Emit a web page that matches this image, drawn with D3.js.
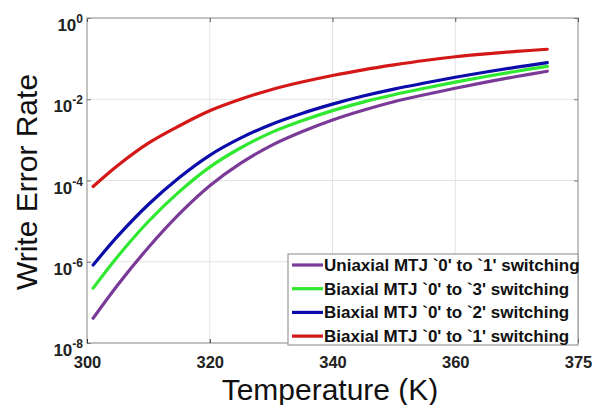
<!DOCTYPE html>
<html><head><meta charset="utf-8">
<script src="https://cdn.jsdelivr.net/npm/d3@7"></script>
<style>body{margin:0;background:#fff}svg{display:block}</style>
</head><body>
<svg id="c" width="596" height="405"></svg>
<script>
const temps = [301,305,310,315,320,325,330,335,340,345,350,355,360,365,370,375];
const uniaxial01 = [4.07e-8,2.69e-7,2.24e-6,1.48e-5,7.41e-5,2.63e-4,7.24e-4,1.58e-3,3.09e-3,5.37e-3,8.71e-3,1.29e-2,1.86e-2,2.63e-2,3.63e-2,4.90e-2];
const biaxial03 = [2.24e-7,1.35e-6,9.8e-6,5.25e-5,2.14e-4,6.31e-4,1.51e-3,2.95e-3,5.25e-3,8.51e-3,1.29e-2,1.86e-2,2.63e-2,3.63e-2,4.90e-2,6.46e-2];
const biaxial02 = [8.3e-7,4.27e-6,2.57e-5,1.17e-4,4.17e-4,1.10e-3,2.40e-3,4.47e-3,7.59e-3,1.20e-2,1.78e-2,2.51e-2,3.47e-2,4.68e-2,6.17e-2,7.94e-2];
const biaxial01 = [7.1e-5,2.34e-4,8.3e-4,2.2e-3,5.2e-3,1.0e-2,1.72e-2,2.65e-2,3.85e-2,5.3e-2,7.0e-2,9.0e-2,0.111,0.131,0.151,0.170];
const seriesNames = ["Uniaxial MTJ `0' to `1' switching","Biaxial MTJ `0' to `3' switching","Biaxial MTJ `0' to `2' switching","Biaxial MTJ `0' to `1' switching"];
const seriesColors = ["#7a3a98","#2fe82f","#0c0caa","#d41818"];
const xTickValues = [300,320,340,360,380];
const xTickLabels = ["300","320","340","360","375"];
const yTickExps = [0,-2,-4,-6,-8];

const series = [uniaxial01, biaxial03, biaxial02, biaxial01];
const svg = d3.select("#c");
const L=87, R=578, T=18, B=343;
const x = d3.scaleLinear().domain([300,380]).range([L,R]);
const y = d3.scaleLog().domain([1e-8,1]).range([B,T]);

// grid
const g = svg.append("g");
g.selectAll(".gx").data(xTickValues.slice(1,-1)).enter().append("line")
 .attr("x1",d=>x(d)).attr("x2",d=>x(d)).attr("y1",T).attr("y2",B)
 .attr("stroke","#e3e3e3").attr("stroke-width",1);
g.selectAll(".gy").data(yTickExps.slice(1,-1)).enter().append("line")
 .attr("x1",L).attr("x2",R).attr("y1",d=>y(Math.pow(10,d))).attr("y2",d=>y(Math.pow(10,d)))
 .attr("stroke","#e3e3e3").attr("stroke-width",1);

// lines
const line = d3.line().x((d,i)=>x(temps[i])).y(d=>y(d)).curve(d3.curveCatmullRom.alpha(0.5));
series.forEach((s,k)=>{
  svg.append("path").datum(s).attr("d",line).attr("fill","none")
    .attr("stroke",seriesColors[k]).attr("stroke-width",3.2).attr("stroke-linecap","round");
});

// frame
svg.append("rect").attr("x",L).attr("y",T).attr("width",R-L).attr("height",B-T)
 .attr("fill","none").attr("stroke","#9a9a9a").attr("stroke-width",1.2);

// ticks (inward)
const xb = svg.append("g").attr("transform",`translate(0,${B})`)
 .call(d3.axisBottom(x).tickValues(xTickValues).tickSizeInner(-4).tickSizeOuter(0).tickFormat((d,i)=>xTickLabels[i]));
xb.select(".domain").remove();
xb.selectAll(".tick line").attr("stroke","#333");
xb.selectAll("text").attr("font-family","Liberation Sans, Arial, sans-serif").attr("font-weight","bold")
 .attr("font-size",16.5).attr("fill","#222").attr("y",13).attr("dy","0.71em");
const xt = svg.append("g").attr("transform",`translate(0,${T})`)
 .call(d3.axisTop(x).tickValues(xTickValues).tickSizeInner(-4).tickSizeOuter(0).tickFormat(""));
xt.select(".domain").remove();
xt.selectAll(".tick line").attr("stroke","#555");

const yl = svg.append("g").attr("transform",`translate(${L},0)`)
 .call(d3.axisLeft(y).tickValues(yTickExps.map(e=>Math.pow(10,e))).tickSizeInner(-4).tickSizeOuter(0).tickFormat(""));
yl.select(".domain").remove();
yl.selectAll(".tick line").attr("stroke","#777");
const yr = svg.append("g").attr("transform",`translate(${R},0)`)
 .call(d3.axisRight(y).tickValues(yTickExps.map(e=>Math.pow(10,e))).tickSizeInner(-4).tickSizeOuter(0).tickFormat(""));
yr.select(".domain").remove();
yr.selectAll(".tick line").attr("stroke","#777");

// y tick labels with superscripts
yTickExps.forEach(e=>{
  const t = svg.append("text").attr("x",83).attr("y",y(Math.pow(10,e))+13)
   .attr("text-anchor","end").attr("font-family","Liberation Sans, Arial, sans-serif")
   .attr("font-weight","bold").attr("font-size",17).attr("fill","#222");
  t.append("tspan").text("10");
  t.append("tspan").attr("font-size",12).attr("dy",-8).text(String(e));
});

// axis titles
svg.append("text").attr("x",330).attr("y",400).attr("text-anchor","middle")
 .attr("font-family","Liberation Sans, Arial, sans-serif").attr("font-size",30).attr("fill","#111")
 .text("Temperature (K)");
svg.append("text").attr("transform","translate(37,182) rotate(-90)").attr("text-anchor","middle")
 .attr("font-family","Liberation Sans, Arial, sans-serif").attr("font-size",30).attr("fill","#111")
 .text("Write Error Rate");

// legend
const lg = svg.append("g");
lg.append("rect").attr("x",288).attr("y",254).attr("width",R-288).attr("height",B+2-254)
 .attr("fill","#fff").attr("stroke","#9a9a9a").attr("stroke-width",1.2);
seriesNames.forEach((n,k)=>{
  const yy = 265 + k*23.7;
  lg.append("line").attr("x1",292).attr("x2",323).attr("y1",yy).attr("y2",yy)
   .attr("stroke",seriesColors[k]).attr("stroke-width",3.2);
  lg.append("text").attr("x",324).attr("y",yy+6).attr("font-family","Liberation Sans, Arial, sans-serif")
   .attr("font-weight","bold").attr("font-size",17).attr("fill","#111").text(n);
});
</script>
</body></html>
